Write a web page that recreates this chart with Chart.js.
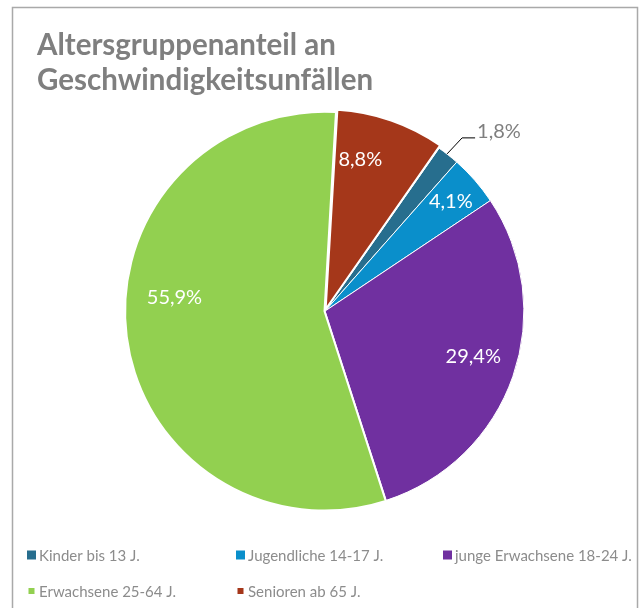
<!DOCTYPE html>
<html>
<head>
<meta charset="utf-8">
<script src="https://cdn.jsdelivr.net/npm/chart.js@4"></script>
<style>
  body { margin: 0; background: #fff; }
  #wrap { width: 641px; height: 608px; }
</style>
</head>
<body>
<div id="wrap"><canvas id="pie-chart" width="641" height="608"></canvas></div>
<script>
const categories = ['Kinder bis 13 J.', 'Jugendliche 14-17 J.', 'junge Erwachsene 18-24 J.', 'Erwachsene 25-64 J.', 'Senioren ab 65 J.'];
const shares = [1.8, 4.1, 29.4, 55.9, 8.8];
const sliceColors = ['#276e8e', '#0a8fcb', '#7030a0', '#92d050', '#a5371a'];
const titleLines = ['Altersgruppenanteil an', 'Geschwindigkeitsunfällen'];

const fmt = v => v.toFixed(1).replace('.', ',') + '%';

// frame around the whole chart
const framePlugin = {
  id: 'frame',
  beforeDraw(chart) {
    const ctx = chart.ctx;
    ctx.save();
    ctx.strokeStyle = '#a9a9a9';
    ctx.lineWidth = 1.5;
    ctx.strokeRect(12.5, 7.5, 625, 640);
    ctx.restore();
  }
};

// percentage labels, small slices outside with a leader line
const labelPlugin = {
  id: 'sliceLabels',
  afterDatasetsDraw(chart) {
    const ctx = chart.ctx;
    const meta = chart.getDatasetMeta(0);
    const shift = [0, 0, -2, 12.5, -6]; // degrees, nudges like excel best fit
    const frac = [1, 0.84, 0.78, 0.76, 0.78];
    ctx.save();
    ctx.font = '20px Lato';
    ctx.textBaseline = 'middle';
    meta.data.forEach((arc, i) => {
      const p = arc.getProps(['x', 'y', 'startAngle', 'endAngle', 'outerRadius'], true);
      const mid = (p.startAngle + p.endAngle) / 2 + shift[i] * Math.PI / 180;
      const text = fmt(shares[i]);
      if (shares[i] < 3) {
        const ex = p.x + Math.cos(mid) * p.outerRadius;
        const ey = p.y + Math.sin(mid) * p.outerRadius;
        ctx.strokeStyle = '#000';
        ctx.lineWidth = 1;
        ctx.beginPath();
        ctx.moveTo(ex - 1, ey - 1);
        ctx.lineTo(ex + 14, ey - 17);
        ctx.lineTo(ex + 27, ey - 17);
        ctx.stroke();
        ctx.fillStyle = '#7f7f7f';
        ctx.textAlign = 'left';
        ctx.fillText(text, ex + 29, ey - 23);
      } else {
        const r = p.outerRadius * frac[i];
        ctx.fillStyle = '#fff';
        ctx.textAlign = 'center';
        ctx.fillText(text, p.x + Math.cos(mid) * r, p.y + Math.sin(mid) * r);
      }
    });
    ctx.restore();
  }
};

// grid legend like the original
const legendPlugin = {
  id: 'gridLegend',
  afterDraw(chart) {
    const ctx = chart.ctx;
    const cols = [27, 236, 443];
    const rows = [555, 591];
    ctx.save();
    ctx.font = '15px Lato';
    ctx.textBaseline = 'middle';
    ctx.textAlign = 'left';
    chart.data.labels.forEach((lab, i) => {
      const row = Math.floor(i / 3);
      const x = cols[i % 3];
      const y = rows[row];
      const box = row === 0 ? 9 : 6;
      ctx.fillStyle = chart.data.datasets[0].backgroundColor[i];
      ctx.fillRect(x + (9 - box) / 2, y - box / 2, box, box);
      ctx.fillStyle = '#8c8c8c';
      ctx.fillText(lab, x + 12, y + 1);
    });
    ctx.restore();
  }
};

new Chart(document.getElementById('pie-chart').getContext('2d'), {
  type: 'pie',
  data: {
    labels: categories,
    datasets: [{
      data: shares,
      backgroundColor: sliceColors,
      borderColor: '#fff',
      borderWidth: [1, 1, 1, 2, 2],
      offset: [0, 0, 0, 2, 8]
    }]
  },
  options: {
    responsive: false,
    animation: false,
    rotation: 35,
    layout: { padding: { top: 28, left: 37, right: 28, bottom: 93 } },
    plugins: {
      legend: { display: false },
      tooltip: { enabled: false },
      title: {
        display: true,
        text: titleLines,
        align: 'start',
        color: '#7f7f7f',
        font: { family: 'Lato', size: 29.5, weight: 'bold', lineHeight: 1.19 },
        padding: { top: 0, bottom: 9 }
      }
    }
  },
  plugins: [framePlugin, labelPlugin, legendPlugin]
});
</script>
</body>
</html>
